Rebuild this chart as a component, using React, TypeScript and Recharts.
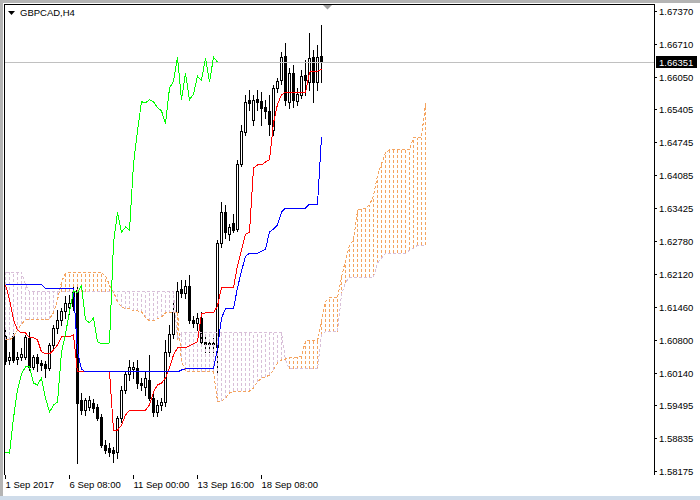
import React from "react";
import { ComposedChart, Bar, Line, XAxis, YAxis, ReferenceLine } from "recharts";

const FONT = "'Liberation Sans', Arial, sans-serif";

const symbolTitle = "GBPCAD,H4";
const xTicks = [0, 16, 32, 48, 64];
const xLabels = ["1 Sep 2017", "6 Sep 08:00", "11 Sep 00:00", "13 Sep 16:00", "18 Sep 08:00"];
const priceTicks = [
  1.58175, 1.58835, 1.59495, 1.6014, 1.608, 1.6146, 1.6212, 1.6278, 1.63425, 1.64085, 1.64745,
  1.65405, 1.6605, 1.6671, 1.6737,
];
const lastPrice = 1.66351;

// H4 candles, oldest first
const opens = [
  1.6089, 1.6041, 1.6089, 1.6043, 1.6047, 1.6047, 1.6085, 1.6027, 1.6047, 1.6035,
  1.6033, 1.6025, 1.6071, 1.6105, 1.6121, 1.6139, 1.6147, 1.6177, 1.6181, 1.5961,
  1.5941, 1.5947, 1.5955, 1.5947, 1.5927, 1.5871, 1.5865, 1.5861, 1.5857, 1.5925,
  1.5981, 1.6013, 1.6023, 1.6025, 1.5995, 1.5987, 1.6001, 1.5965, 1.5937, 1.5951,
  1.5957, 1.6057, 1.6093, 1.6137, 1.6183, 1.6175, 1.6189, 1.6121, 1.6115, 1.6125,
  1.6077, 1.6075, 1.6073, 1.6067, 1.6274, 1.6336, 1.6292, 1.6314, 1.6302, 1.6432,
  1.6496, 1.656, 1.652, 1.6561, 1.6557, 1.6546, 1.6538, 1.65, 1.6583, 1.6599,
  1.6647, 1.6556, 1.6613, 1.6557, 1.6569, 1.6609, 1.6595, 1.6645, 1.6595, 1.6647,
];
const highs = [
  1.6107, 1.6057, 1.6095, 1.6057, 1.6065, 1.6091, 1.6097, 1.6051, 1.6053, 1.6041,
  1.6039, 1.6075, 1.6111, 1.6141, 1.6145, 1.6169, 1.6171, 1.6191, 1.6193, 1.5975,
  1.5965, 1.5969, 1.5963, 1.5953, 1.5933, 1.5881, 1.5875, 1.5867, 1.5929, 1.5989,
  1.6017, 1.6041, 1.6037, 1.6041, 1.6005, 1.6017, 1.6051, 1.5975, 1.5961, 1.5965,
  1.6081, 1.6111, 1.6157, 1.6197, 1.6201, 1.6201, 1.6211, 1.6129, 1.6135, 1.6137,
  1.6089, 1.6081, 1.6085, 1.628, 1.6356, 1.635, 1.6312, 1.6332, 1.644, 1.651,
  1.657, 1.6579, 1.657, 1.6579, 1.6575, 1.656, 1.657, 1.6589, 1.6603, 1.6655,
  1.6673, 1.6623, 1.6629, 1.6583, 1.6619, 1.6639, 1.6693, 1.6659, 1.6669, 1.6709,
];
const lows = [
  1.6033, 1.6033, 1.6037, 1.6033, 1.6041, 1.6043, 1.6021, 1.6023, 1.6019, 1.6021,
  1.6007, 1.6021, 1.6061, 1.6095, 1.6111, 1.6125, 1.6133, 1.6141, 1.5835, 1.5933,
  1.5931, 1.5941, 1.5937, 1.5921, 1.5867, 1.5855, 1.5849, 1.5837, 1.5845, 1.5917,
  1.5975, 1.6001, 1.6005, 1.5985, 1.5981, 1.5971, 1.5961, 1.5929, 1.5929, 1.5941,
  1.5949, 1.6049, 1.6085, 1.6131, 1.6167, 1.6165, 1.6115, 1.6107, 1.6101, 1.6071,
  1.6057, 1.6057, 1.6057, 1.6015, 1.6266, 1.6284, 1.628, 1.6296, 1.6298, 1.6428,
  1.649, 1.654, 1.651, 1.654, 1.651, 1.6524, 1.649, 1.649, 1.6575, 1.6591,
  1.655, 1.6544, 1.6546, 1.655, 1.6563, 1.6569, 1.6579, 1.6556, 1.6579, 1.6595,
];
const closes = [
  1.6039, 1.6047, 1.6041, 1.6047, 1.6053, 1.6087, 1.6027, 1.6047, 1.6035, 1.6031,
  1.6025, 1.6071, 1.6105, 1.6121, 1.6139, 1.6155, 1.6155, 1.6149, 1.5955, 1.5941,
  1.5961, 1.5961, 1.5945, 1.5925, 1.5871, 1.5861, 1.5857, 1.5855, 1.5925, 1.5981,
  1.6013, 1.6027, 1.6027, 1.5995, 1.5991, 1.6005, 1.5965, 1.5937, 1.5951, 1.5957,
  1.6057, 1.6093, 1.6137, 1.6179, 1.6175, 1.6189, 1.6121, 1.6115, 1.6125, 1.6077,
  1.6073, 1.6073, 1.6075, 1.6274, 1.6336, 1.6296, 1.6306, 1.63, 1.6432, 1.6498,
  1.6556, 1.6554, 1.656, 1.6556, 1.6544, 1.6538, 1.6512, 1.6583, 1.6597, 1.6645,
  1.656, 1.6613, 1.656, 1.6571, 1.6607, 1.6599, 1.6643, 1.6595, 1.6645, 1.66351,
];

// Ichimoku lines
const tenkan = [
  1.6191, 1.6161, 1.6121, 1.6101, 1.6095, 1.6095, 1.6085, 1.6085, 1.6081, 1.6057,
  1.6053, 1.6053, 1.6061, 1.6071, 1.6087, 1.6087, 1.6087, 1.6091, 1.6017, 1.6017,
  1.6017, 1.6017, 1.6017, 1.6017, 1.6017, 1.6017, 1.6017, 1.5901, 1.5901, 1.5911,
  1.5931, 1.5941, 1.5941, 1.5941, 1.5941, 1.5941, 1.5951, 1.5977, 1.5991, 1.5995,
  1.6005, 1.6025, 1.6051, 1.6065, 1.6065, 1.6065, 1.6069, 1.6073, 1.6077, 1.6133,
  1.6135, 1.6135, 1.6135, 1.6149, 1.6185, 1.6185, 1.6185, 1.6185, 1.6229, 1.626,
  1.6292, 1.6296, 1.6424, 1.643, 1.643, 1.6436, 1.644, 1.6514, 1.6551, 1.657,
  1.6575, 1.6575, 1.6575, 1.6575, 1.6575, 1.6575, 1.6615, 1.6617, 1.6617, 1.6621,
];
const kijun = [
  1.6191, 1.6191, 1.6191, 1.6191, 1.6191, 1.6191, 1.6191, 1.6191, 1.6191, 1.6191,
  1.6183, 1.6183, 1.6183, 1.6183, 1.6183, 1.6183, 1.6183, 1.6183, 1.6057, 1.6023,
  1.6017, 1.6017, 1.6017, 1.6017, 1.6017, 1.6017, 1.6017, 1.6017, 1.6017, 1.6017,
  1.6017, 1.6017, 1.6017, 1.6017, 1.6017, 1.6017, 1.6017, 1.6017, 1.6017, 1.6017,
  1.6017, 1.6017, 1.6017, 1.6017, 1.6021, 1.6023, 1.6023, 1.6023, 1.6023, 1.6023,
  1.6023, 1.6023, 1.6023, 1.6063, 1.6125, 1.6143, 1.6143, 1.6143, 1.6185, 1.6218,
  1.6248, 1.6254, 1.6254, 1.6254, 1.6258, 1.6262, 1.6296, 1.6302, 1.631, 1.6336,
  1.6344, 1.6344, 1.6344, 1.6344, 1.6344, 1.6344, 1.6352, 1.6352, 1.6352, 1.6486,
];
const spanA = [
  1.6081, 1.6081, 1.6087, 1.6101, 1.6113, 1.6121, 1.6121, 1.6121, 1.6121, 1.6121,
  1.6121, 1.6123, 1.6135, 1.6161, 1.6197, 1.6214, 1.6216, 1.6216, 1.6216, 1.6216,
  1.6216, 1.6216, 1.6216, 1.6216, 1.6216, 1.6208, 1.6191, 1.6177, 1.6157, 1.6147,
  1.6143, 1.6143, 1.6139, 1.6139, 1.6137, 1.6125, 1.6119, 1.6119, 1.6123, 1.6127,
  1.6135, 1.6135, 1.6135, 1.6137, 1.6037, 1.6021, 1.6017, 1.6017, 1.6017, 1.6017,
  1.6017, 1.6017, 1.6017, 1.5959, 1.5959, 1.5965, 1.5975, 1.5979, 1.5979, 1.5979,
  1.5979, 1.5979, 1.5985, 1.5997, 1.6005, 1.6007, 1.6011, 1.6021, 1.6035, 1.6041,
  1.6043, 1.6045, 1.6045, 1.6047, 1.6049, 1.6079, 1.6079, 1.6079, 1.6079, 1.6117,
  1.6157, 1.6165, 1.6165, 1.6165, 1.6206, 1.624, 1.627, 1.628, 1.634, 1.6342,
  1.6344, 1.635, 1.6368, 1.6408, 1.6432, 1.6454, 1.646, 1.646, 1.646, 1.646,
  1.646, 1.646, 1.6484, 1.6484, 1.6484, 1.6554,
];
const spanB = [
  1.6216, 1.6216, 1.6216, 1.6216, 1.6216, 1.6191, 1.6177, 1.6177, 1.6177, 1.6177,
  1.6177, 1.6177, 1.6177, 1.6177, 1.6177, 1.6177, 1.6177, 1.6177, 1.6177, 1.6177,
  1.6177, 1.6177, 1.6177, 1.6177, 1.6177, 1.6177, 1.6177, 1.6177, 1.6177, 1.6177,
  1.6177, 1.6177, 1.6177, 1.6177, 1.6177, 1.6177, 1.6177, 1.6177, 1.6177, 1.6177,
  1.6177, 1.6177, 1.6177, 1.6081, 1.6095, 1.6095, 1.6095, 1.6095, 1.6095, 1.6095,
  1.6095, 1.6095, 1.6095, 1.6095, 1.6095, 1.6095, 1.6095, 1.6095, 1.6095, 1.6095,
  1.6095, 1.6095, 1.6095, 1.6095, 1.6095, 1.6095, 1.6095, 1.6095, 1.6095, 1.6095,
  1.6041, 1.6023, 1.6023, 1.6023, 1.6023, 1.6023, 1.6023, 1.6023, 1.6023, 1.6091,
  1.6097, 1.6097, 1.6097, 1.6097, 1.6171, 1.6195, 1.6206, 1.6206, 1.6206, 1.6206,
  1.6206, 1.6206, 1.6206, 1.6234, 1.6244, 1.6254, 1.6254, 1.6254, 1.6254, 1.6254,
  1.6254, 1.626, 1.6264, 1.627, 1.627, 1.627,
];

const CHIKOU_SHIFT = 26;
const X_DOMAIN = [-0.375, 162.125];
const Y_DOMAIN = [1.58115, 1.6751];
const CHART_W = 700;
const CHART_H = 500;
const X_AXIS_H = 25;
const PLOT_BOTTOM = CHART_H - X_AXIS_H;

const data = spanA.map((a, i) => ({
  i,
  o: opens[i],
  h: highs[i],
  l: lows[i],
  c: closes[i],
  wick: i < closes.length ? [lows[i], highs[i]] : null,
  tenkan: tenkan[i],
  kijun: kijun[i],
  chikou: closes[i + CHIKOU_SHIFT],
  spanA: a,
  spanB: spanB[i],
  kumo: [Math.min(a, spanB[i]), Math.max(a, spanB[i])],
}));

const Candle = (props: any) => {
  const { x, y, width, height, payload } = props;
  if (!payload || payload.o == null || !isFinite(y) || !isFinite(height)) return null;
  const top = Math.min(y, y + height);
  const bot = Math.max(y, y + height);
  const span = payload.h - payload.l || 1;
  const py = (v: number) => Math.round(top + ((payload.h - v) / span) * (bot - top));
  const cx = Math.round(x + width / 2 + 0.5) - 0.5;
  const yo = py(payload.o);
  const yc = py(payload.c);
  const bTop = Math.min(yo, yc);
  const bBot = Math.max(yo, yc);
  const bull = payload.c >= payload.o;
  return (
    <g>
      <line x1={cx} x2={cx} y1={Math.round(top)} y2={Math.round(bot) + 1} stroke="#000" />
      {bull ? (
        <rect x={cx - 1} y={bTop + 0.5} width={2} height={Math.max(bBot - bTop, 0)} fill="#fff" stroke="#000" />
      ) : (
        <rect x={cx - 1.5} y={bTop} width={3} height={bBot - bTop + 1} fill="#000" />
      )}
    </g>
  );
};

const KumoBar = (props: any) => {
  const { x, y, width, height, payload } = props;
  if (!payload || !isFinite(y) || !isFinite(height) || Math.abs(height) < 0.5) return null;
  const top = Math.min(y, y + height);
  const bot = Math.max(y, y + height);
  const cx = Math.round(x + width / 2 + 0.5) - 0.5;
  const up = payload.spanA >= payload.spanB;
  return (
    <line x1={cx} x2={cx} y1={bot} y2={top} stroke={up ? "#f4a460" : "#d8bfd8"} strokeDasharray="3 2" />
  );
};

const PriceTick = (props: any) => {
  const { x, y, payload } = props;
  return (
    <text x={x} y={y} dy={3.5} textAnchor="start" fontSize={9.5} fontFamily={FONT} fill="#000">
      {Number(payload.value).toFixed(5)}
    </text>
  );
};

const TimeTick = (props: any) => {
  const { x, payload } = props;
  const tx = Math.round(x + 0.5) - 0.5;
  return (
    <g>
      <line x1={tx} x2={tx} y1={PLOT_BOTTOM} y2={PLOT_BOTTOM + 4} stroke="#000" />
      <text x={tx} y={PLOT_BOTTOM + 12.5} textAnchor="start" fontSize={9.5} fontFamily={FONT} fill="#000">
        {xLabels[xTicks.indexOf(payload.value)]}
      </text>
    </g>
  );
};

const PriceBox = (props: any) => {
  const vb = props.viewBox;
  if (!vb) return null;
  const yy = Math.round(vb.y);
  const x0 = vb.x + vb.width + 2;
  return (
    <g>
      <rect x={x0} y={yy - 6} width={41} height={12} fill="#000" />
      <text x={x0 + 3} y={yy} dy={3.5} fontSize={9.5} fontFamily={FONT} fill="#fff">
        {lastPrice.toFixed(5)}
      </text>
    </g>
  );
};

const ShiftMark = (props: any) => {
  const vb = props.viewBox;
  if (!vb) return null;
  const cx = vb.x;
  const top = vb.y + 1;
  return <polygon points={`${cx - 4.5},${top} ${cx + 4.5},${top} ${cx},${top + 4.5}`} fill="#a0a0a0" />;
};

export default function App() {
  return (
    <div
      className="mt4"
      style={{ position: "absolute", left: 0, top: 0, width: CHART_W, height: CHART_H, background: "#fff", overflow: "hidden" }}
    >
      <style>{".mt4 .recharts-surface path, .mt4 .recharts-surface line, .mt4 .recharts-surface rect { shape-rendering: crispEdges; }"}</style>
      <ComposedChart width={CHART_W} height={CHART_H} data={data} margin={{ top: 4, right: 0, bottom: 0, left: 4 }}>
        <XAxis
          xAxisId="main"
          type="number"
          dataKey="i"
          domain={X_DOMAIN}
          allowDataOverflow
          ticks={xTicks}
          interval={0}
          height={X_AXIS_H}
          tickLine={false}
          tick={<TimeTick />}
          axisLine={{ stroke: "#000" }}
        />
        <XAxis xAxisId="cloud" type="number" dataKey="i" domain={X_DOMAIN} allowDataOverflow hide />
        <YAxis
          orientation="right"
          type="number"
          domain={Y_DOMAIN}
          allowDataOverflow
          ticks={priceTicks}
          interval={0}
          width={46}
          tickSize={3}
          tickMargin={2}
          tick={<PriceTick />}
          axisLine={{ stroke: "#000" }}
          tickLine={{ stroke: "#000" }}
        />
        <ReferenceLine xAxisId="main" y={lastPrice} stroke="#c0c0c0" label={<PriceBox />} />
        <Bar xAxisId="main" dataKey="wick" barSize={3} shape={<Candle />} isAnimationActive={false} />
        <Bar xAxisId="cloud" dataKey="kumo" barSize={1} shape={<KumoBar />} isAnimationActive={false} />
        <Line xAxisId="main" type="linear" dataKey="spanA" stroke="#f4a460" strokeDasharray="3 2" dot={false} activeDot={false} isAnimationActive={false} />
        <Line xAxisId="main" type="linear" dataKey="spanB" stroke="#d8bfd8" strokeDasharray="3 2" dot={false} activeDot={false} isAnimationActive={false} />
        <Line xAxisId="main" type="linear" dataKey="tenkan" stroke="#ff0000" dot={false} activeDot={false} isAnimationActive={false} />
        <Line xAxisId="main" type="linear" dataKey="kijun" stroke="#0000ff" dot={false} activeDot={false} isAnimationActive={false} />
        <Line xAxisId="main" type="linear" dataKey="chikou" stroke="#00ff00" dot={false} activeDot={false} isAnimationActive={false} />
        <ReferenceLine xAxisId="main" x={80.5} stroke="none" label={<ShiftMark />} />
      </ComposedChart>
      <div style={{ position: "absolute", left: 0, top: 0, width: CHART_W, height: 3, background: "#b4b4b4" }} />
      <div style={{ position: "absolute", left: 0, top: 0, width: 3, height: CHART_H, background: "#b4b4b4" }} />
      <div style={{ position: "absolute", left: 0, top: 496, width: CHART_W, height: 4, background: "#cfdcea" }} />
      <div
        style={{
          position: "absolute",
          left: 4,
          top: 4,
          width: 650,
          height: 471,
          borderLeft: "1px solid #000",
          borderTop: "1px solid #000",
          boxSizing: "border-box",
          pointerEvents: "none",
        }}
      />
      <svg style={{ position: "absolute", left: 0, top: 0 }} width={20} height={20}>
        <polygon points="8,11 15,11 11.5,15" fill="#000" />
      </svg>
      <div
        style={{
          position: "absolute",
          left: 20,
          top: 7,
          fontFamily: FONT,
          fontSize: 9.5,
          lineHeight: "12px",
          color: "#000",
          whiteSpace: "nowrap",
        }}
      >
        {symbolTitle}
      </div>
    </div>
  );
}
